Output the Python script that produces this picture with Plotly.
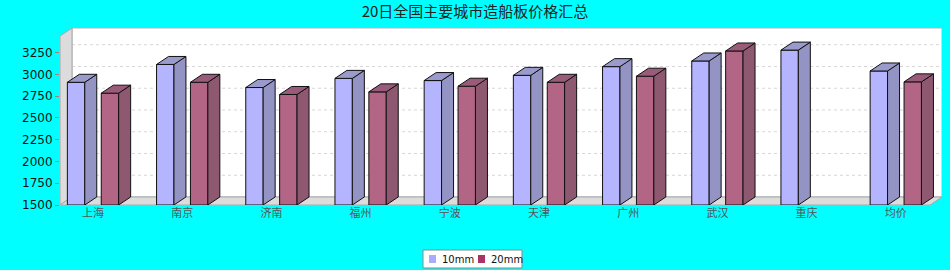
import plotly.graph_objects as go

# ---- data ----
categories = ["上海", "南京", "济南", "福州", "宁波", "天津", "广州", "武汉", "重庆", "均价"]
series_names = ["10mm", "20mm"]
values_10mm = [2910, 3115, 2850, 2955, 2930, 2990, 3090, 3155, 3280, 3040]
values_20mm = [2785, 2910, 2770, 2800, 2865, 2910, 2980, 3270, None, 2915]
y_ticks = [1500, 1750, 2000, 2250, 2500, 2750, 3000, 3250]
title_text = "20日全国主要城市造船板价格汇总"

# ---- geometry / style ----
X0, X1 = -0.370, 9.518      # x range (category units)
Y0, Y1 = 1500, 3534         # y range
DX, DY = 0.1345, 92         # 3D depth offset in data units
BAR_W = 0.195
OFFSETS = [-0.19, 0.19]
FRONT = ["#B4B4FF", "#B26585"]
SIDE = ["#9393C4", "#8E5870"]
TOP = ["#9A9ACC", "#9A5A7A"]
LEGEND_COL = ["#AAAAFF", "#AA3366"]
EDGE = "#111111"

# plot-area pixel frame (for legend placement in paper coords)
PL, PR, PT, PB = 60, 942, 28, 205
def px(x):
    return (x - PL) / (PR - PL)
def py(y):
    return (PB - y) / (PB - PT)

fig = go.Figure()

series = [values_10mm, values_20mm]
for s, vals in enumerate(series):
    xs = [i + OFFSETS[s] for i in range(len(categories))]
    fig.add_trace(go.Bar(
        x=xs,
        y=[(v - Y0) if v is not None else None for v in vals],
        base=Y0,
        width=BAR_W,
        name=series_names[s],
        showlegend=False,
        marker=dict(color=FRONT[s], line=dict(color=EDGE, width=1)),
        hoverinfo="skip",
    ))

for s, vals in enumerate(series):
    sx, sy, tx, ty = [], [], [], []
    for i, v in enumerate(vals):
        if v is None:
            continue
        xl = i + OFFSETS[s] - BAR_W / 2
        xr = i + OFFSETS[s] + BAR_W / 2
        sx += [xr, xr + DX, xr + DX, xr, xr, None]
        sy += [Y0, Y0 + DY, v + DY, v, Y0, None]
        tx += [xl, xl + DX, xr + DX, xr, xl, None]
        ty += [v, v + DY, v + DY, v, v, None]
    fig.add_trace(go.Scatter(x=sx, y=sy, mode="lines", fill="toself",
                             fillcolor=SIDE[s], line=dict(color=EDGE, width=1),
                             showlegend=False, hoverinfo="skip"))
    fig.add_trace(go.Scatter(x=tx, y=ty, mode="lines", fill="toself",
                             fillcolor=TOP[s], line=dict(color=EDGE, width=1),
                             showlegend=False, hoverinfo="skip"))

shapes = []
# back wall
shapes.append(dict(type="rect", xref="x", yref="y", x0=X0 + DX, x1=X1, y0=Y0 + DY, y1=Y1,
                   fillcolor="white", line=dict(color="#B4B4B4", width=1), layer="below"))
# gridlines on back wall
for t in y_ticks[1:]:
    shapes.append(dict(type="line", xref="x", yref="y", x0=X0 + DX, x1=X1, y0=t + DY, y1=t + DY,
                       line=dict(color="#D6D6D6", width=1, dash="3px,3px"), layer="below"))
# left wall
shapes.append(dict(type="path", xref="x", yref="y",
                   path=f"M {X0},{Y0} L {X0},{Y1 - DY} L {X0 + DX},{Y1} L {X0 + DX},{Y0 + DY} Z",
                   fillcolor="#DCDCDC", line=dict(color="#A8A8A8", width=1), layer="below"))
# floor
shapes.append(dict(type="path", xref="x", yref="y",
                   path=f"M {X0},{Y0} L {X1 - DX},{Y0} L {X1},{Y0 + DY} L {X0 + DX},{Y0 + DY} Z",
                   fillcolor="#DCDCDC", line=dict(color="#A8A8A8", width=1), layer="below"))

# compact legend box (JFreeChart style)
annotations = []
shapes.append(dict(type="rect", xref="paper", yref="paper",
                   x0=px(423), x1=px(522), y0=py(268), y1=py(250),
                   fillcolor="white", line=dict(color="#888888", width=1), layer="above"))
LEG_X = [429, 478]
for s in range(2):
    shapes.append(dict(type="rect", xref="paper", yref="paper",
                       x0=px(LEG_X[s]), x1=px(LEG_X[s] + 7), y0=py(263), y1=py(255),
                       fillcolor=LEGEND_COL[s], line=dict(width=0), layer="above"))
    annotations.append(dict(xref="paper", yref="paper", x=px(LEG_X[s] + 11), y=py(259),
                            xanchor="left", yanchor="middle", showarrow=False,
                            text=series_names[s],
                            font=dict(family="DejaVu Sans, sans-serif", size=10, color="#111111")))

fig.update_layout(
    width=950, height=270,
    margin=dict(l=PL, r=950 - PR, t=PT, b=270 - PB, autoexpand=False),
    paper_bgcolor="#00FFFF",
    plot_bgcolor="#00FFFF",
    barmode="overlay",
    shapes=shapes,
    annotations=annotations,
    showlegend=False,
    title=dict(text=title_text, x=0.5, xanchor="center", y=1 - 12 / 270, yanchor="middle",
               yref="container",
               font=dict(family="Noto Sans CJK SC, sans-serif", size=15, color="#222222")),
    xaxis=dict(range=[X0, X1], tickvals=list(range(len(categories))), ticktext=categories,
               showgrid=False, zeroline=False, showline=False, ticks="",
               tickfont=dict(family="Noto Sans CJK SC, sans-serif", size=11, color="#555555"),
               fixedrange=True),
    yaxis=dict(range=[Y0, Y1], tickvals=y_ticks, ticktext=[str(t) for t in y_ticks],
               showgrid=False, zeroline=False, showline=False, ticks="outside", ticklen=4,
               tickcolor="#A08080",
               tickfont=dict(family="DejaVu Sans, sans-serif", size=12, color="#111111"),
               fixedrange=True),
)

fig.write_html("out.html")
